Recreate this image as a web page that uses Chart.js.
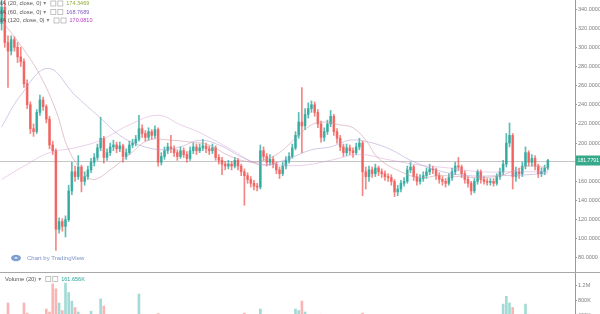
<!DOCTYPE html>
<html>
<head>
<meta charset="utf-8">
<script src="https://cdn.jsdelivr.net/npm/chart.js@4"></script>
<style>
  html, body { margin: 0; padding: 0; background: #fff; overflow: hidden; }
  canvas { display: block; }
</style>
</head>
<body>
<canvas id="js--chart" width="600" height="314"></canvas>
<script>
// candles (one per slot, left to right)
const opens = [
  325,342,305,296,308,300,290,285,262,240,215,212,232,245,238,225,198,192,110,118,
  113,120,150,170,165,175,160,165,172,180,185,195,205,185,190,196,198,194,197,186,
  190,198,200,204,215,210,206,212,208,214,180,186,192,196,194,190,186,192,188,184,
  192,196,192,195,197,194,192,195,185,182,178,176,178,176,182,176,170,166,162,158,
  155,154,192,186,180,183,178,172,168,176,182,186,195,208,222,218,230,236,240,232,
  220,206,212,220,228,212,205,196,190,195,192,190,196,200,170,165,172,168,174,170,
  168,165,164,160,149,152,158,160,172,175,165,160,163,166,170,173,172,166,162,160,
  158,164,170,176,175,168,162,158,150,160,170,162,160,159,160,158,165,170,178,200,
  208,165,170,168,176,190,180,184,176,168,170,174
];
const highs = [
  350,352,312,312,311,305,300,288,266,243,220,235,250,248,240,228,202,194,122,121,
  124,156,180,176,187,177,170,176,184,189,199,227,207,194,200,203,201,201,199,194,
  202,204,208,229,219,213,216,214,218,216,190,196,200,208,197,193,196,195,191,196,
  200,199,199,204,200,197,199,197,188,185,181,182,181,185,184,178,173,169,165,161,
  158,198,196,189,188,186,180,175,180,186,190,199,212,232,258,236,242,244,243,235,
  223,216,224,234,230,215,208,199,199,198,195,200,205,202,175,176,175,178,176,173,
  171,168,167,162,156,161,164,176,180,177,168,167,170,174,178,176,174,169,165,163,
  168,174,180,185,177,171,165,160,163,172,172,165,163,163,163,168,174,182,210,221,
  210,175,174,180,196,192,188,187,178,174,177,183
];
const lows = [
  318,300,258,292,296,284,280,258,236,210,207,210,229,234,221,194,188,88,106,108,
  102,118,146,160,162,149,156,162,169,176,182,192,179,182,187,192,190,191,180,183,
  188,195,197,202,206,202,203,204,205,176,177,183,189,190,186,182,184,185,180,182,
  189,188,190,192,190,188,189,182,178,167,172,173,172,174,172,166,135,158,154,151,
  150,152,182,176,177,174,168,163,166,173,179,184,193,205,190,214,226,232,228,216,
  201,202,209,217,208,200,192,186,187,188,185,188,193,145,152,160,164,165,166,164,
  161,160,156,144,145,149,155,158,169,161,156,157,160,163,167,168,162,158,156,154,
  156,161,167,171,164,158,154,146,148,157,158,157,156,156,155,156,162,167,175,196,
  152,160,163,165,173,176,176,172,164,165,167,172
];
const closes = [
  342,305,296,308,300,290,285,262,240,215,212,232,245,238,225,198,192,110,118,113,
  120,150,170,165,175,160,165,172,180,185,195,205,185,190,196,198,194,197,186,190,
  198,200,204,215,210,206,212,208,214,180,186,192,196,194,190,186,192,188,184,192,
  196,192,195,197,194,192,195,185,182,178,176,178,176,182,176,170,166,162,158,155,
  154,192,186,180,183,178,172,168,176,182,186,195,208,222,218,230,236,240,232,220,
  206,212,220,228,212,205,196,190,195,192,190,196,200,170,165,172,168,174,170,168,
  165,164,160,149,152,158,160,172,175,165,160,163,166,170,173,172,166,162,160,158,
  164,170,176,175,168,162,158,150,160,170,162,160,159,160,158,165,170,178,200,208,
  165,170,168,176,190,180,184,176,168,170,174,181.7791
];
// volume in thousands
const volumesK = [
  380,420,720,350,300,330,280,720,450,400,380,300,350,320,560,480,1230,1100,720,520,
  1250,1000,770,600,480,420,350,300,500,330,420,830,640,380,300,260,280,250,320,270,
  300,260,350,960,420,300,280,250,330,440,300,260,240,280,250,230,240,220,260,240,
  230,220,210,250,220,200,210,300,250,260,220,200,210,240,230,260,450,280,260,250,
  270,560,380,300,260,250,280,300,260,280,300,380,560,520,773,480,400,350,330,380,
  420,300,280,330,380,320,300,280,250,240,260,240,280,450,380,300,260,250,240,230,
  220,240,260,350,300,260,240,330,300,260,240,220,230,240,250,230,240,220,230,240,
  250,260,280,300,260,250,260,300,280,300,260,230,220,210,230,260,300,690,900,720,
  600,380,300,350,690,420,330,300,280,260,250,300
];

// moving averages as [slot, value] pairs
const ma20 = [[0,328],[6,302],[12,271],[17,234],[21,193],[26,168],[29,162],[34,172],[40,188],[46,203],
  [53,203],[59,201],[65,198],[71,187],[78,180],[82,182],[87,190],[92,205],[97,219],[101,222],
  [106,219],[110,216],[114,203],[118,184],[125,170],[131,164],[137,166],[143,165],[150,164],
  [156,166],[161,172],[165,176],[171,174.35]];
const ma60 = [[0,217],[6,250],[14.5,278],[23,250],[31,226],[37,208],[43,198],[50,193],[56,196],
  [62,203],[68,198],[76,184],[82,177],[90,184],[97,193],[103,196],[109,203],[115,201],[122,193],
  [128,182],[137,171],[146,166],[156,166],[165,167],[171,168.77]];
const ma120 = [[0,162],[7,176],[15,190],[23,195],[31,203],[40,219],[49,229],[56,219],[62,211],
  [72,193],[79,180],[87,177],[95,177],[103,182],[112,188],[122,182],[131,177],[140,174],
  [150,170],[159,170],[171,170.08]];

const priceTicks = [80,100,120,140,160,180,200,220,240,260,280,300,320,340];
const volTicks = [[1200000,'1.2M'],[800000,'800K'],[400000,'400K']];
const lastPrice = 181.7791;
const maRows = [
  ['MA (20, close, 0)', '174.3469', '#8fae3c'],
  ['MA (60, close, 0)', '168.7689', '#7e5cc4'],
  ['MA (120, close, 0)', '170.0810', '#b63bc6'],
];
const volRow = ['Volume (20)', '161.656K', '#26a69a'];

const slots = 180;
const paneSplit = 272;
const upCol = 'rgba(38,166,154,0.75)';
const dnCol = 'rgba(239,83,80,0.7)';
const candleCol = closes.map((c, i) => c >= opens[i] ? upCol : dnCol);
const volCol = closes.map((c, i) => c >= opens[i] ? 'rgba(38,166,154,0.42)' : 'rgba(239,83,80,0.42)');
const txtFont = '5.8px "Liberation Sans", "DejaVu Sans", sans-serif';
const numFont = '5.5px "Liberation Sans", "DejaVu Sans", sans-serif';

function drawBoxes(ctx, x, y) {
  ctx.strokeStyle = '#b5b5b5';
  ctx.lineWidth = 0.8;
  ctx.strokeRect(x + 0.5, y - 2.5, 5, 5);
  ctx.strokeRect(x + 7.5, y - 2.5, 5, 5);
}

function drawRow(ctx, x, y, label, value, color) {
  ctx.font = txtFont;
  ctx.fillStyle = '#555';
  ctx.fillText(label, x, y);
  x += ctx.measureText(label).width + 2;
  ctx.fillStyle = '#888';
  ctx.fillText('\u25BE', x, y);
  x += 7;
  drawBoxes(ctx, x, y);
  x += 16;
  ctx.font = numFont;
  ctx.fillStyle = color;
  ctx.fillText(value, x, y);
}

const paneDecor = {
  id: 'paneDecor',
  beforeDatasetsDraw(chart) {
    const {ctx, chartArea: a, scales: {y}} = chart;
    ctx.save();
    // last price line
    const py = Math.round(y.getPixelForValue(lastPrice)) + 0.5;
    ctx.strokeStyle = 'rgba(150,150,150,0.55)';
    ctx.lineWidth = 1;
    ctx.beginPath(); ctx.moveTo(a.left, py); ctx.lineTo(a.right, py); ctx.stroke();
    // pane separator
    ctx.strokeStyle = '#a8a8a8';
    ctx.beginPath(); ctx.moveTo(0, paneSplit + 0.5); ctx.lineTo(chart.width, paneSplit + 0.5); ctx.stroke();
    // watermark
    ctx.fillStyle = '#7f9fd0';
    ctx.beginPath();
    ctx.ellipse(16, 258, 5, 3.2, 0, 0, Math.PI * 2);
    ctx.fill();
    ctx.fillStyle = '#fff';
    ctx.beginPath(); ctx.arc(16, 258.5, 1.6, Math.PI, 0); ctx.fill();
    ctx.font = '6px "Liberation Sans", "DejaVu Sans", sans-serif';
    ctx.fillStyle = '#7b93c8';
    ctx.textBaseline = 'middle';
    ctx.fillText('Chart by TradingView', 27, 258.5);
    ctx.restore();
  },
  afterDraw(chart) {
    const {ctx, chartArea: a, scales: {y, yv}} = chart;
    ctx.save();
    ctx.textBaseline = 'middle';
    // indicator legends
    maRows.forEach((r, i) => drawRow(ctx, -2.5, 3.5 + i * 8.5, r[0], r[1], r[2]));
    drawRow(ctx, 5, 279, volRow[0], volRow[1], volRow[2]);
    // volume scale labels
    ctx.font = numFont;
    volTicks.forEach(([v, t]) => {
      const vy = Math.round(yv.getPixelForValue(v)) + 0.5;
      ctx.strokeStyle = '#9a9a9a';
      ctx.lineWidth = 1;
      ctx.beginPath(); ctx.moveTo(a.right, vy); ctx.lineTo(a.right + 2, vy); ctx.stroke();
      ctx.fillStyle = '#7d7d7d';
      ctx.fillText(t, a.right + 3, vy);
    });
    // last price label
    const py = y.getPixelForValue(lastPrice);
    ctx.fillStyle = '#35a98a';
    ctx.fillRect(a.right + 1, py - 5, chart.width - a.right - 1, 10);
    ctx.fillStyle = '#fff';
    ctx.font = '5.2px "Liberation Sans", "DejaVu Sans", sans-serif';
    ctx.fillText(lastPrice.toFixed(4), a.right + 2.5, py + 0.3);
    ctx.restore();
  }
};

const maLine = (pts, color) => ({
  type: 'line',
  data: pts.map(([x, v]) => ({x: x, y: v})),
  borderColor: color,
  borderWidth: 1,
  pointRadius: 0,
  tension: 0.4,
  yAxisID: 'y',
  order: 0,
});

new Chart(document.getElementById('js--chart'), {
  type: 'bar',
  data: {
    datasets: [
      maLine(ma20, 'rgba(205,150,160,0.55)'),
      maLine(ma60, 'rgba(170,150,205,0.5)'),
      maLine(ma120, 'rgba(210,150,210,0.45)'),
      {
        label: 'wick',
        data: lows.map((l, i) => ({x: i, y: [l, highs[i]]})),
        backgroundColor: candleCol,
        barThickness: 1,
        grouped: false,
        yAxisID: 'y',
        order: 2,
      },
      {
        label: 'body',
        data: opens.map((o, i) => ({x: i, y: [o, closes[i]]})),
        backgroundColor: candleCol,
        barThickness: 2,
        minBarLength: 1,
        grouped: false,
        yAxisID: 'y',
        order: 1,
      },
      {
        label: 'volume',
        data: volumesK.map((v, i) => ({x: i, y: v * 1000})),
        backgroundColor: volCol,
        barThickness: 2,
        grouped: false,
        yAxisID: 'yv',
        order: 3,
      },
    ]
  },
  options: {
    responsive: false,
    animation: false,
    devicePixelRatio: 1,
    layout: { padding: 0 },
    plugins: { legend: { display: false }, tooltip: { enabled: false } },
    scales: {
      x: { type: 'linear', min: -0.5, max: slots - 0.5, offset: false, display: false },
      y: {
        position: 'right',
        min: 21.5,
        max: 349.4,
        afterBuildTicks: s => { s.ticks = priceTicks.map(v => ({value: v})); },
        afterFit: s => { s.width = 25; s.paddingTop = 0; s.paddingBottom = 0; },
        grid: { display: true, drawOnChartArea: false, drawTicks: true, tickLength: 2, color: '#9a9a9a' },
        border: { display: true, color: '#9a9a9a' },
        ticks: {
          padding: 1,
          autoSkip: false,
          color: '#7d7d7d',
          font: { family: '"Liberation Sans", "DejaVu Sans", sans-serif', size: 5.5 },
          callback: v => Number(v).toFixed(4),
        },
      },
      yv: { display: false, min: 426667, max: 8800000 },
    }
  },
  plugins: [paneDecor],
});
</script>
</body>
</html>
